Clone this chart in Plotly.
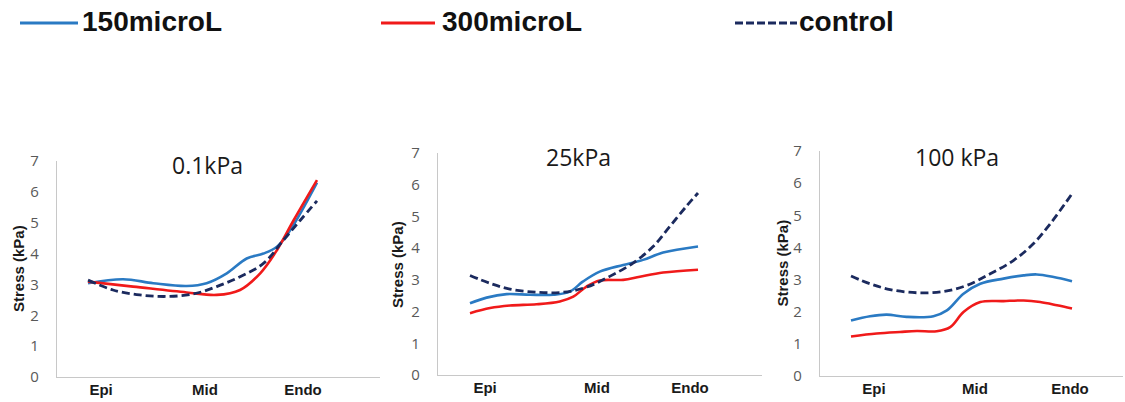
import plotly.graph_objects as go

W, H = 1125, 402

# ---------------- data ----------------
# transmural position (0 = Epi end of curve, 100 = Endo end of curve)
p1_x = [0, 15.3, 28.5, 43.1, 51.8, 60.6, 69.3, 76.6, 82.5, 88.3, 100]
p1_150 = [3.04, 3.17, 3.04, 2.95, 3.04, 3.36, 3.84, 4.00, 4.22, 4.76, 6.30]
p1_300x = [0, 19.7, 43.1, 56.2, 66.4, 75.2, 82.5, 89.8, 100]
p1_300 = [3.09, 2.93, 2.74, 2.66, 2.82, 3.36, 4.11, 5.08, 6.38]
p1_ctlx = [0, 10.9, 22.6, 34.3, 46.0, 56.2, 66.4, 76.6, 85.4, 92.7, 100]
p1_ctl = [3.14, 2.82, 2.66, 2.61, 2.69, 2.93, 3.25, 3.68, 4.44, 5.08, 5.71]

p2_150x = [0, 7.3, 16.1, 26.3, 36.5, 43.8, 49.6, 56.9, 67.2, 75.9, 84.7, 100]
p2_150 = [2.26, 2.44, 2.55, 2.53, 2.53, 2.63, 2.95, 3.26, 3.47, 3.63, 3.86, 4.05]
p2_300x = [0, 8.8, 17.5, 29.2, 39.4, 45.3, 51.1, 56.9, 67.2, 74.5, 84.7, 100]
p2_300 = [1.95, 2.11, 2.19, 2.23, 2.32, 2.47, 2.79, 2.98, 3.00, 3.10, 3.23, 3.32]
p2_ctlx = [0, 8.8, 17.5, 29.2, 40.9, 51.1, 61.3, 71.5, 80.3, 87.6, 94.9, 100]
p2_ctl = [3.14, 2.89, 2.71, 2.61, 2.61, 2.77, 3.11, 3.53, 4.05, 4.68, 5.32, 5.74]

p3_150x = [0, 8.6, 16.1, 25.2, 37.3, 43.4, 50.9, 58.5, 69.0, 78.1, 84.1, 91.7, 100]
p3_150 = [1.73, 1.86, 1.91, 1.84, 1.86, 2.04, 2.56, 2.87, 3.03, 3.13, 3.16, 3.08, 2.95]
p3_300x = [0, 11.6, 22.2, 29.8, 38.8, 44.9, 50.9, 58.5, 69.0, 78.1, 85.6, 93.2, 100]
p3_300 = [1.23, 1.32, 1.37, 1.40, 1.39, 1.52, 1.99, 2.30, 2.33, 2.35, 2.30, 2.20, 2.10]
p3_ctlx = [0, 8.6, 17.7, 29.8, 41.9, 52.4, 63.0, 73.6, 82.6, 90.2, 100]
p3_ctl = [3.11, 2.87, 2.69, 2.59, 2.63, 2.82, 3.18, 3.60, 4.12, 4.74, 5.67]

zone_labels = ["Epi", "Mid", "Endo"]
p1_ticks = [5.7, 51.1, 93.9]
p2_ticks = [6.6, 55.7, 96.5]
p3_ticks = [10.4, 56.1, 99.1]

titles = ["0.1kPa", "25kPa", "100 kPa"]
series_names = ["150microL", "300microL", "control"]
y_ticks = [0, 1, 2, 3, 4, 5, 6, 7]

# ---------------- styles ----------------
C150 = "#2a7ac3"
C300 = "#f01a1a"
CCTL = "#1b2a5e"
AXC = "#c8c8c8"
TICKC = "#595959"
FONT = "Open Sans, Liberation Sans, Arial, sans-serif"
BOLD = "Liberation Sans, Arial, sans-serif"

# panel geometry in pixels: (axis_left, axis_right, y0_px, y7_px, curve_start, curve_end)
panels = [
    (57, 380, 377, 161, 88, 317),
    (438, 762, 375, 153, 470, 698),
    (820, 1123, 376, 151, 851, 1072),
]
title_pos = [(207, 165), (578, 157), (957, 157)]
ytitle_x = [18, 397, 782]

data = [
    (p1_x, p1_150, p1_300x, p1_300, p1_ctlx, p1_ctl, p1_ticks),
    (p2_150x, p2_150, p2_300x, p2_300, p2_ctlx, p2_ctl, p2_ticks),
    (p3_150x, p3_150, p3_300x, p3_300, p3_ctlx, p3_ctl, p3_ticks),
]

fig = go.Figure()
layout = dict(
    width=W, height=H, margin=dict(l=0, r=0, t=0, b=0, autoexpand=False),
    paper_bgcolor="white", plot_bgcolor="white", showlegend=False,
    annotations=[], shapes=[],
)

for i, ((al, ar, y0p, y7p, cs, ce), (x150, y150, x300, y300, xc, yc, tks)) in enumerate(zip(panels, data)):
    n = "" if i == 0 else str(i + 1)
    ppu = (ce - cs) / 100.0
    xr = [-(cs - al) / ppu, 100 + (ar - ce) / ppu]
    xa, ya = "x" + n, "y" + n
    for xs, ys, col, dash, wd, name in [
        (x150, y150, C150, "solid", 2.6, series_names[0]),
        (x300, y300, C300, "solid", 2.6, series_names[1]),
        (xc, yc, CCTL, "8px,4px", 2.8, series_names[2]),
    ]:
        fig.add_trace(go.Scatter(
            x=xs, y=ys, mode="lines", name=name, xaxis=xa, yaxis=ya,
            line=dict(color=col, width=wd, dash=dash, shape="spline", smoothing=1.0),
            hoverinfo="skip",
        ))
    layout["xaxis" + n] = dict(
        domain=[al / W, ar / W], range=xr, anchor=ya, automargin=False,
        showgrid=False, zeroline=False, showline=True, linecolor=AXC, linewidth=1.2,
        tickmode="array", tickvals=tks, ticktext=zone_labels, ticks="",
        tickfont=dict(family=BOLD, size=15, color="#1a1a1a", weight="bold"),
        ticklabelstandoff=-1,
    )
    layout["yaxis" + n] = dict(
        domain=[(H - y0p) / H, (H - y7p) / H], range=[0, 7], anchor=xa, automargin=False,
        showgrid=False, zeroline=False, showline=True, linecolor=AXC, linewidth=1.2,
        tickmode="array", tickvals=y_ticks, ticks="",
        tickfont=dict(family=FONT, size=15, color=TICKC),
        ticklabelstandoff=14,
    )
    # panel title
    layout["annotations"].append(dict(
        text=titles[i], xref="paper", yref="paper",
        x=title_pos[i][0] / W, y=(H - title_pos[i][1]) / H,
        xanchor="center", yanchor="middle", showarrow=False,
        font=dict(family=FONT, size=23, color="#1a1a1a"),
    ))
    # y-axis title
    layout["annotations"].append(dict(
        text="Stress (kPa)", xref="paper", yref="paper",
        x=ytitle_x[i] / W, y=(H - (y0p + y7p) / 2) / H,
        xanchor="center", yanchor="middle", showarrow=False, textangle=-90,
        font=dict(family=BOLD, size=15, color="#1a1a1a", weight="bold"),
    ))

# legend (manual, at top)
leg = [(20, 78, 80, C150, "solid"), (381, 435, 440, C300, "solid"), (735, 797, 797, CCTL, "8px,3px")]
for (l0, l1, tx, col, dash), name in zip(leg, series_names):
    layout["shapes"].append(dict(
        type="line", xref="paper", yref="paper",
        x0=l0 / W, x1=l1 / W, y0=(H - 23) / H, y1=(H - 23) / H,
        line=dict(color=col, width=3, dash=dash),
    ))
    layout["annotations"].append(dict(
        text=name, xref="paper", yref="paper", x=tx / W, y=(H - 22) / H,
        xanchor="left", yanchor="middle", showarrow=False,
        font=dict(family=BOLD, size=28, color="#111111", weight="bold"),
    ))

fig.update_layout(**layout)
fig.write_html(
    "out.html",
    config={"displayModeBar": False},
    post_script="document.body.style.margin='0';document.body.style.overflow='hidden';",
)
